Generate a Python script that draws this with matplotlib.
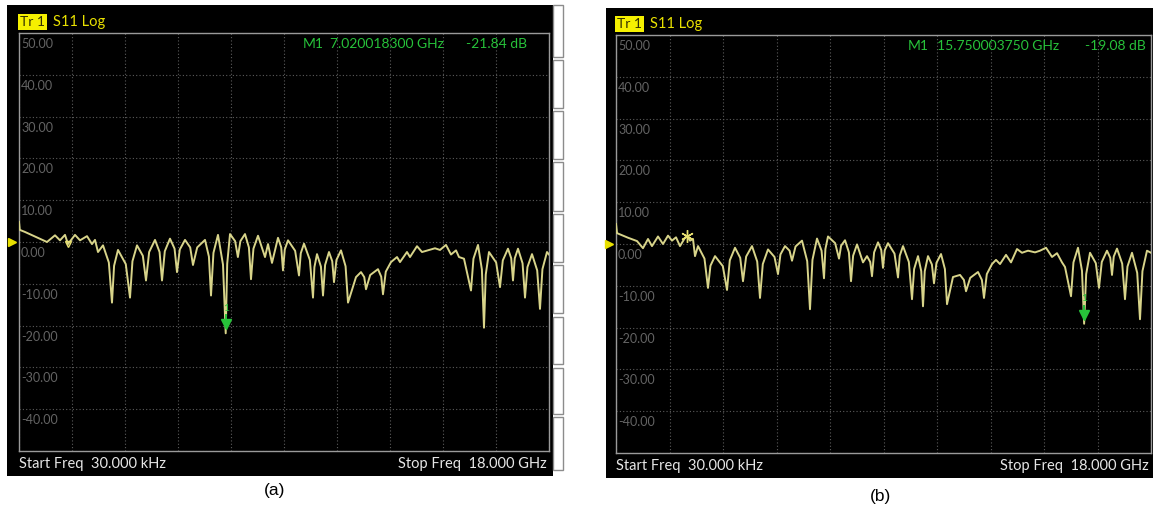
import numpy as np
import matplotlib
matplotlib.use("Agg")
import matplotlib.pyplot as plt
from matplotlib.patches import Rectangle
import matplotlib.transforms as mtransforms

W, H = 1153, 517

# ---- data read off the two analyzer screens (GHz, dB) ----
# peaks and nulls of trace (a)
freq_a = [0.000, 0.027, 0.204, 0.543, 0.951, 1.223, 1.392, 1.562, 1.664, 1.902,
          2.072, 2.309, 2.479, 2.581, 2.683, 2.853, 3.158, 3.362, 3.770, 4.008,
          4.313, 4.619, 4.857, 5.128, 5.366, 5.638, 5.909, 6.317, 6.521, 6.758,
          7.020, 7.166, 7.434, 7.675, 7.879, 8.117, 8.355, 8.457, 8.592, 8.796,
          8.966, 9.136, 9.509, 9.679, 9.985, 10.121, 10.325, 10.528, 10.698, 10.936,
          11.174, 11.445, 11.615, 11.785, 12.192, 12.362, 12.634, 12.838, 12.940, 13.177,
          13.279, 13.517, 13.687, 13.925, 14.128, 14.298, 14.502, 14.672, 14.842, 14.943,
          15.113, 15.351, 15.589, 15.792, 15.962, 16.336, 16.607, 16.777, 16.947, 17.185,
          17.423, 17.694, 17.932, 18.000]
s11_a = [4.8, 2.9, 2.4, 1.3, 0.0, 1.6, 0.4, 1.7, -0.5, 1.7,
         0.4, 1.4, -0.5, 0.5, -2.4, -0.8, -14.5, -1.9, -13.3, -0.8,
         -9.2, 0.5, -9.2, 0.8, -7.2, 0.5, -5.5, 0.5, -12.8, 1.7,
         -21.84, 1.9, -3.6, 1.9, -8.9, 1.5, -3.6, -0.5, -5.0, 1.0,
         -6.8, 0.4, -8.0, -0.4, -13.3, -2.9, -12.8, -2.4, -9.6, -2.0,
         -14.5, -8.4, -7.2, -11.3, -6.5, -12.5, -4.8, -3.6, -4.8, -2.4,
         -3.6, -1.0, -2.4, -1.9, -1.5, -1.9, -0.7, -3.0, -2.0, -3.6,
         -4.0, -11.6, -0.7, -20.5, -2.4, -10.8, -1.6, -9.2, -1.6, -13.3,
         -2.9, -16.0, -2.4, -3.0]
# flank points of trace (a), where the arches bend into the nulls
flank_freq_a = [3.051, 3.229, 3.627, 3.853, 4.206, 4.420, 4.774, 4.952, 5.283, 5.461,
                5.814, 6.052, 6.450, 6.604, 6.928, 7.071, 7.340, 7.518, 7.808, 7.962,
                8.906, 9.026, 9.378, 9.569, 9.878, 10.033, 10.254, 10.396, 10.638, 10.781,
                11.091, 11.725, 11.927, 12.302, 12.457, 15.434, 15.721, 15.852, 16.205, 16.431,
                16.717, 16.837, 17.102, 17.268, 17.599, 17.777]
flank_s11_a = [-4.9, -5.7, -5.3, -4.6, -3.3, -2.4, -2.4, -2.2, -1.6, -1.8,
               -1.3, -1.3, -3.5, -2.6, -5.4, -5.2, 0.2, 0.2, -1.3, -1.6,
               -1.3, -1.8, -2.1, -2.7, -4.3, -6.0, -5.9, -5.5, -4.6, -4.3,
               -5.8, -8.4, -7.9, -8.3, -7.1, -4.0, -6.6, -7.8, -4.9, -4.4,
               -3.9, -3.9, -5.1, -6.0, -6.8, -6.5]

# peaks and nulls of trace (b)
freq_b = [0.000, 0.034, 0.404, 0.707, 0.908, 1.077, 1.211, 1.413, 1.581, 1.750,
          1.884, 2.019, 2.153, 2.322, 2.389, 2.490, 2.591, 2.658, 2.759, 3.095,
          3.331, 3.735, 4.004, 4.273, 4.576, 4.845, 5.114, 5.450, 5.686, 5.922,
          6.258, 6.527, 6.763, 6.998, 7.133, 7.503, 7.705, 7.907, 8.109, 8.310,
          8.445, 8.613, 8.815, 8.983, 9.151, 9.488, 9.656, 9.959, 10.161, 10.329,
          10.497, 10.699, 10.935, 11.137, 11.338, 11.574, 11.776, 12.179, 12.381, 12.651,
          12.785, 12.920, 13.122, 13.290, 13.492, 13.660, 13.862, 14.098, 14.266, 14.468,
          14.670, 14.838, 15.006, 15.107, 15.309, 15.544, 15.750, 15.948, 16.250, 16.519,
          16.688, 16.856, 17.125, 17.361, 17.630, 17.865, 18.000]
s11_b = [4.8, 2.6, 1.5, 0.7, -1.0, 1.2, -0.5, 1.8, 0.0, 2.0,
         0.8, 1.6, -0.5, 1.5, 1.9, 0.8, 1.2, -2.9, -0.5, -10.5,
         -2.9, -11.0, -0.9, -8.9, -0.5, -12.9, -1.3, -7.2, -0.5, -4.0,
         0.8, -15.6, 1.3, -8.2, 1.8, -3.5, 0.9, -8.9, -0.1, -4.4,
         -2.9, -7.7, 0.4, -5.7, 0.2, -8.0, -0.5, -13.2, -2.9, -14.9,
         -2.9, -9.4, -2.4, -14.4, -7.9, -7.4, -11.3, -6.7, -12.9, -4.8,
         -3.8, -4.8, -2.6, -4.4, -1.2, -2.1, -1.6, -2.0, -1.6, -0.9,
         -3.1, -2.2, -4.4, -5.5, -12.5, -0.9, -19.08, -2.1, -10.5, -1.6,
         -7.4, -1.1, -13.2, -2.1, -18.0, -1.6, -2.1]
flank_freq_b = [2.977, 3.178, 3.594, 3.829, 4.179, 4.379, 4.751, 4.939, 5.332, 5.533,
                5.839, 6.040, 6.433, 6.610, 6.916, 7.045, 7.373, 7.574, 7.836, 7.978,
                8.554, 8.684, 8.924, 9.042, 9.370, 9.547, 9.853, 10.030, 10.270, 10.388,
                10.628, 10.782, 11.066, 11.705, 11.917, 12.310, 12.476, 15.391, 15.678, 15.819,
                16.144, 16.344, 16.629, 16.747, 17.031, 17.208, 17.536, 17.712]
flank_s11_b = [-3.5, -5.2, -5.3, -3.9, -3.3, -3.0, -4.2, -4.8, -3.1, -2.5,
               -1.6, -0.6, -4.1, -3.8, -1.6, -1.2, 0.2, -0.4, -2.0, -2.8,
               -4.3, -2.0, -1.4, -1.5, -2.3, -2.8, -4.3, -6.0, -6.5, -6.5,
               -4.9, -4.5, -6.0, -8.6, -8.1, -8.6, -7.2, -4.4, -6.4, -7.2,
               -4.6, -4.3, -3.3, -3.0, -4.7, -5.4, -6.9, -6.5]

y_ticks = [50, 40, 30, 20, 10, 0, -10, -20, -30, -40]
marker_a = (7.020018300, -21.84)
marker_b = (15.750003750, -19.08)
flag_a = (1.664, -0.5)
flag_b = (2.389, 1.9)
readout_a = ["M1", "7.020018300 GHz", "-21.84 dB"]
readout_b = ["M1", "15.750003750 GHz", "-19.08 dB"]

SCREEN_FONT = ["Lato", "DejaVu Sans"]
TRACE = "#d8d48a"
GREEN = "#27c23a"

fig = plt.figure(figsize=(W / 100, H / 100), dpi=100)
fig.patch.set_facecolor("white")


def fx(x):
    return x / W


def fy(y):
    return 1 - y / H


def screen(bg, box, freqs, vals, marker, flag, flag_style, readout, rx, caption, cap_xy):
    # black instrument screen
    x0, y0, x1, y1 = bg
    fig.patches.append(Rectangle((fx(x0), fy(y1)), fx(x1 - x0), (y1 - y0) / H,
                                 transform=fig.transFigure, facecolor="black",
                                 edgecolor="none", zorder=-10))
    l, t, r, b = box
    ax = fig.add_axes([fx(l), fy(b), fx(r - l), (b - t) / H])
    ax.set_zorder(2)
    ax.set_facecolor("black")
    ax.set_xlim(0, 18)
    ax.set_ylim(-50, 50)
    ax.set_xticks(np.linspace(0, 18, 11))
    ax.set_yticks(np.arange(-50, 51, 10))
    ax.tick_params(length=0, labelbottom=False, labelleft=False)
    ax.grid(True, color="#5c5c5c", linestyle=(0, (1, 2)), linewidth=0.8)
    for sp in ax.spines.values():
        sp.set_color("#9a9a9a")
        sp.set_linewidth(1.0)

    order = np.argsort(freqs, kind="stable")
    f = np.asarray(freqs)[order]
    v = np.asarray(vals)[order]
    ax.plot(f, v, color=TRACE, linewidth=1.4, zorder=3, solid_joinstyle="round")

    for tv in y_ticks:
        ax.annotate(f"{tv:.2f}", xy=(0, tv), xycoords=("axes fraction", "data"),
                    xytext=(2, -11), textcoords="offset pixels", va="center",
                    ha="left", color="#646464", fontsize=9, family=SCREEN_FONT)

    # reference level pointer
    blend = mtransforms.blended_transform_factory(ax.transAxes, ax.transData)
    ax.plot([-0.013], [0], marker=">", color="#e8e000", markersize=6,
            transform=blend, clip_on=False, zorder=5)

    # marker 1
    mf, mv = marker
    ax.plot([mf], [mv + 2.2], marker="v", color=GREEN, markersize=7, zorder=6)
    ax.plot([mf, mf], [mv + 2.6, mv + 4.3], color=GREEN, linewidth=1.4, zorder=6)
    ax.annotate("1", xy=(mf, mv + 6.0), ha="center", va="center", color=GREEN,
                fontsize=7.5, family=SCREEN_FONT)

    ax.plot([flag[0]], [flag[1]], color="#e8e070", zorder=6, **flag_style)

    # header
    fig.text(fx(l + 1), fy(t - 11), "Tr 1", color="#303000", fontsize=10,
             family=SCREEN_FONT, va="center", ha="left",
             bbox=dict(boxstyle="square,pad=0.15", facecolor="#f5f000", edgecolor="none"))
    fig.text(fx(l + 34), fy(t - 11), "S11 Log", color="#e8e000", fontsize=10.5,
             family=SCREEN_FONT, va="center", ha="left")

    # marker readout
    for txt, px in zip(readout, rx):
        fig.text(fx(px), fy(t + 11), txt, color=GREEN, fontsize=10,
                 family=SCREEN_FONT, va="center", ha="left", zorder=5)

    # footer
    fig.text(fx(l), fy(b + 13), "Start Freq  30.000 kHz", color="#e6e6e6",
             fontsize=10.5, family=SCREEN_FONT, va="center", ha="left")
    fig.text(fx(r - 2), fy(b + 13), "Stop Freq  18.000 GHz", color="#e6e6e6",
             fontsize=10.5, family=SCREEN_FONT, va="center", ha="right")

    fig.text(fx(cap_xy[0]), fy(cap_xy[1]), caption, color="black", fontsize=12.5,
             family=["Liberation Sans", "DejaVu Sans"], ha="center", va="center")
    return ax


screen((7, 5, 553, 476), (19, 33, 549, 451), freq_a + flank_freq_a, s11_a + flank_s11_a,
       marker_a, flag_a,
       dict(marker="v", markersize=5, markerfacecolor="none", markeredgewidth=1.0),
       readout_a, (303, 330, 466), "(a)", (275, 491))

screen((606, 8, 1153, 478), (616, 35, 1151, 453), freq_b + flank_freq_b, s11_b + flank_s11_b,
       marker_b, flag_b,
       dict(marker=(6, 2, 0), markersize=9, markeredgewidth=1.0),
       readout_b, (908, 937, 1085), "(b)", (880, 496))

# soft-key column edge at the right of screen (a)
keys = [(5, 57), (60, 108), (111, 159), (162, 211), (214, 262), (265, 313),
        (317, 364), (368, 414), (417, 470)]
for k0, k1 in keys:
    fig.patches.append(Rectangle((fx(553), fy(k1)), fx(10), (k1 - k0) / H,
                                 transform=fig.transFigure, facecolor="white",
                                 edgecolor="#8c8c8c", linewidth=1.0, zorder=1))

fig.savefig("out.png", dpi=100, facecolor="white")
